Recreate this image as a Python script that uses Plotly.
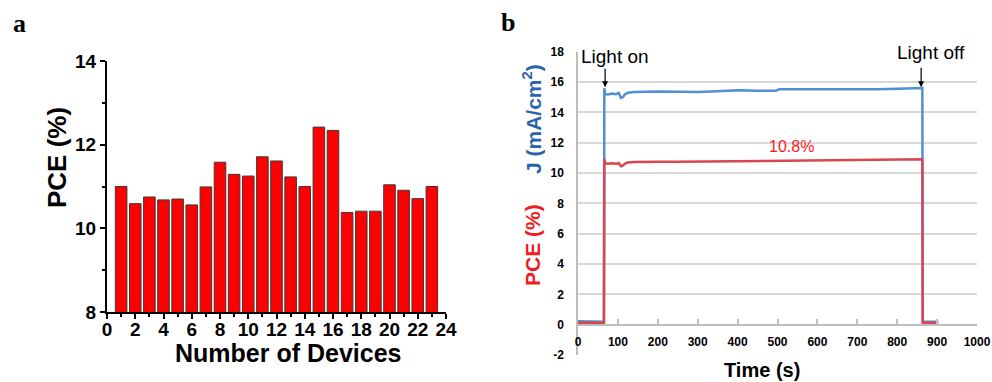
import plotly.graph_objects as go

W, H = 992, 382

# ---------- Panel a data ----------
devices = list(range(1, 24))
pce_devices = [11.00, 10.59, 10.75, 10.68, 10.70, 10.56, 10.99, 11.58, 11.29, 11.25,
               11.71, 11.61, 11.23, 11.00, 12.42, 12.34, 10.38, 10.41, 10.41, 11.04,
               10.91, 10.71, 11.00]
a_xticks = list(range(0, 25, 2))
a_yticks = [8, 10, 12, 14]

# ---------- Panel b data ----------
time_s = [0, 20, 40, 60, 65, 66, 68, 75, 85, 95, 102, 108, 112, 118, 125, 140, 160,
          200, 250, 300, 350, 400, 450, 495, 505, 550, 600, 650, 700, 750, 800, 830,
          850, 863, 864, 880, 903]
j_vals = [0.22, 0.22, 0.21, 0.20, 0.20, 15.60, 15.20, 15.18, 15.24, 15.20, 15.28, 14.95,
          15.00, 15.20, 15.30, 15.35, 15.37, 15.38, 15.36, 15.35, 15.40, 15.45, 15.43,
          15.42, 15.52, 15.52, 15.50, 15.50, 15.52, 15.53, 15.55, 15.58, 15.62, 15.60,
          0.20, 0.20, 0.20]
pce_vals = [0.12, 0.12, 0.12, 0.12, 0.12, 10.92, 10.65, 10.62, 10.65, 10.62, 10.65, 10.45,
            10.48, 10.62, 10.70, 10.72, 10.74, 10.74, 10.74, 10.75, 10.76, 10.78, 10.79,
            10.79, 10.82, 10.82, 10.82, 10.82, 10.83, 10.84, 10.86, 10.88, 10.90, 10.90,
            0.12, 0.12, 0.12]
j_ticks = list(range(-2, 19, 2))
t_ticks = list(range(0, 1001, 100))

ARIAL = "Liberation Sans, Arial, sans-serif"
TIMES = "Liberation Serif, Times New Roman, serif"


def px(x):
    return x / W


def py(y):
    return 1 - y / H


def bold(vals):
    return ["<b>%s</b>" % v for v in vals]


fig = go.Figure()

fig.add_trace(go.Bar(
    x=devices, y=pce_devices, width=0.82,
    marker=dict(color="#FF0000", line=dict(color="#3a3a3a", width=1)),
    xaxis="x", yaxis="y", showlegend=False,
))

fig.add_trace(go.Scatter(
    x=time_s, y=j_vals, mode="lines", line=dict(color="#4F8FD6", width=2.5),
    xaxis="x2", yaxis="y2", showlegend=False,
))
fig.add_trace(go.Scatter(
    x=time_s, y=pce_vals, mode="lines", line=dict(color="#D9474E", width=2.5),
    xaxis="x2", yaxis="y2", showlegend=False,
))

# domains
xa_dom = [px(107), px(446)]
ya_dom = [py(312), py(61)]
xb_dom = [px(578), px(977)]
yb_dom = [py(355), py(51.7)]
yb_range = [-2, 18]
zero_pos = yb_dom[0] + (0 - yb_range[0]) / (yb_range[1] - yb_range[0]) * (yb_dom[1] - yb_dom[0])

fig.update_layout(
    width=W, height=H,
    margin=dict(l=0, r=0, t=0, b=0),
    paper_bgcolor="white", plot_bgcolor="white",
    xaxis=dict(
        domain=xa_dom, range=[0, 24], tickvals=a_xticks, ticktext=bold(a_xticks),
        automargin=False,
        showline=True, linecolor="black", linewidth=2,
        ticks="outside", ticklen=5, tickwidth=2, tickcolor="black",
        ticklabelstandoff=-6,
        minor=dict(ticks="outside", ticklen=3, tickwidth=2, dtick=1, tick0=0, tickcolor="black"),
        showgrid=False, zeroline=False, anchor="y",
        tickfont=dict(family=ARIAL, size=19, color="black"),
    ),
    yaxis=dict(
        domain=ya_dom, range=[8, 14], tickvals=a_yticks, ticktext=bold(a_yticks),
        automargin=False,
        showline=True, linecolor="black", linewidth=2,
        ticks="outside", ticklen=5, tickwidth=2, tickcolor="black",
        minor=dict(ticks="outside", ticklen=3, tickwidth=2, dtick=1, tick0=8, tickcolor="black"),
        showgrid=False, zeroline=False, anchor="x",
        tickfont=dict(family=ARIAL, size=19, color="black"),
    ),
    xaxis2=dict(
        domain=xb_dom, range=[0, 1000], tickvals=t_ticks, ticktext=bold(t_ticks),
        automargin=False,
        anchor="free", position=zero_pos,
        showline=True, linecolor="#bdbdbd", linewidth=1.5,
        ticks="inside", ticklen=5, tickwidth=1.5, tickcolor="#bdbdbd",
        ticklabelstandoff=6,
        showgrid=False, zeroline=False,
        tickfont=dict(family=ARIAL, size=12, color="black"),
    ),
    yaxis2=dict(
        domain=yb_dom, range=yb_range, tickvals=j_ticks, ticktext=bold(j_ticks),
        automargin=False,
        anchor="x2",
        showline=True, linecolor="#bdbdbd", linewidth=1.5,
        ticks="outside", ticklen=10, tickcolor="rgba(0,0,0,0)",
        showgrid=True, gridcolor="#d9d9d9", gridwidth=1.5, zeroline=False,
        tickfont=dict(family=ARIAL, size=12, color="black"),
    ),
)

C = dict(xanchor="center", yanchor="middle", showarrow=False)
ann = []
# panel letters
ann.append(dict(text="<b>a</b>", x=px(19), y=py(24), xref="paper", yref="paper", **C,
                font=dict(family=TIMES, size=26, color="black")))
ann.append(dict(text="<b>b</b>", x=px(508), y=py(22), xref="paper", yref="paper", **C,
                font=dict(family=TIMES, size=26, color="black")))
# panel a titles
ann.append(dict(text="<b>PCE (%)</b>", x=px(57), y=py(158), xref="paper", yref="paper",
                textangle=-90, **C,
                font=dict(family=ARIAL, size=26, color="black")))
ann.append(dict(text="<b>Number of Devices</b>", x=px(288), y=py(353), xref="paper", yref="paper",
                **C, font=dict(family=ARIAL, size=25, color="black")))
# panel b titles
ann.append(dict(text="<b>Time (s)</b>", x=px(762), y=py(370), xref="paper", yref="paper",
                **C, font=dict(family=ARIAL, size=20, color="black")))
ann.append(dict(text="<b>J (mA/cm<sup>2</sup>)</b>", x=px(532), y=py(119), xref="paper", yref="paper",
                textangle=-90, **C,
                font=dict(family=ARIAL, size=21, color="#2B64AD")))
ann.append(dict(text="<b>PCE (%)</b>", x=px(532), y=py(245), xref="paper", yref="paper",
                textangle=-90, **C,
                font=dict(family=ARIAL, size=21, color="#EE1C25")))
# panel b annotations
ann.append(dict(text="Light on", x=93, y=17.7, xref="x2", yref="y2", **C,
                font=dict(family=ARIAL, size=19, color="black")))
ann.append(dict(text="Light off", x=885, y=17.95, xref="x2", yref="y2", **C,
                font=dict(family=ARIAL, size=19, color="black")))
ann.append(dict(text="", x=68, y=15.65, xref="x2", yref="y2", showarrow=True,
                ax=0, ay=-20, arrowhead=2, arrowsize=1, arrowwidth=1.2, arrowcolor="black"))
ann.append(dict(text="", x=860, y=15.65, xref="x2", yref="y2", showarrow=True,
                ax=0, ay=-21, arrowhead=2, arrowsize=1, arrowwidth=1.2, arrowcolor="black"))
ann.append(dict(text="10.8%", x=534, y=11.75, xref="x2", yref="y2", **C,
                font=dict(family=ARIAL, size=16, color="#FF1A1A")))
fig.update_layout(annotations=ann)

fig.write_html("out.html", config={"displayModeBar": False},
               post_script="document.body.style.margin='0';document.body.style.padding='0';")
